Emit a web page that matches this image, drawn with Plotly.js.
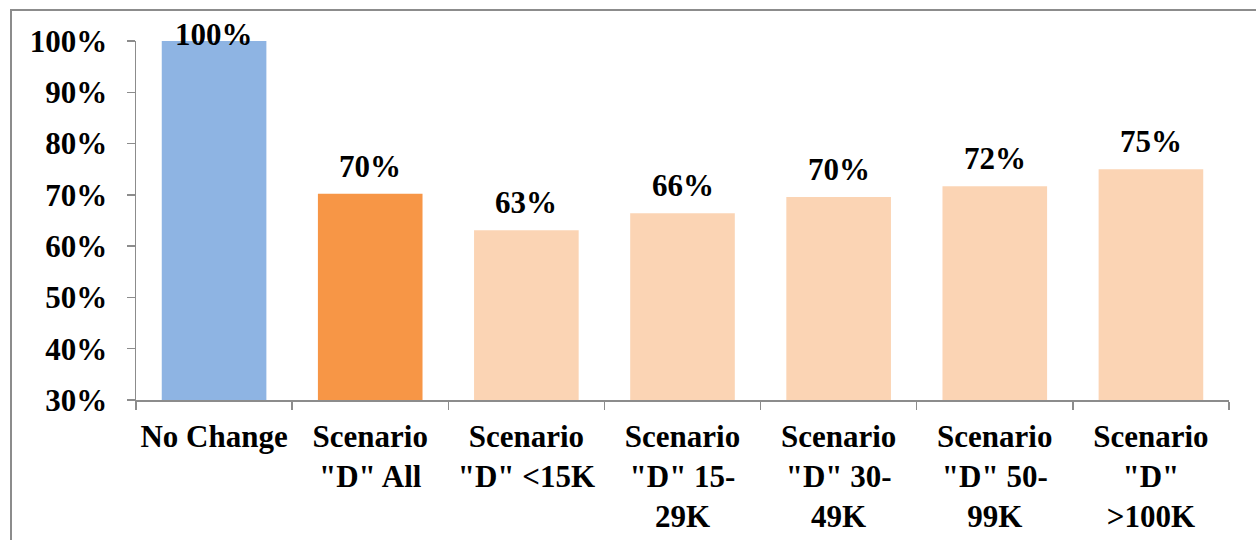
<!DOCTYPE html>
<html>
<head>
<meta charset="utf-8">
<script src="https://cdn.plot.ly/plotly-3.0.1.min.js"></script>
<style>
  html, body { margin: 0; padding: 0; background: #fff; overflow: hidden; }
  #wrap { position: relative; width: 1256px; height: 540px; }
  #chart { position: absolute; left: 0; top: 0; width: 1256px; height: 540px; }
  #frame { position: absolute; left: 10px; top: 9px; width: 1400px; height: 700px;
           border: 2px solid #8c8c8c; pointer-events: none; z-index: 5; }
</style>
</head>
<body>
<div id="wrap">
  <div id="chart"></div>
  <div id="frame"></div>
</div>
<script>
// Data
const categories = [
  'No Change',
  'Scenario<br>"D" All',
  'Scenario<br>"D" &lt;15K',
  'Scenario<br>"D" 15-<br>29K',
  'Scenario<br>"D" 30-<br>49K',
  'Scenario<br>"D" 50-<br>99K',
  'Scenario<br>"D"<br>&gt;100K'
];
const values = [100, 70.2, 63.1, 66.4, 69.6, 71.7, 75.0];
const valueLabels = ['100%', '70%', '63%', '66%', '70%', '72%', '75%'];
const barColors = ['#8EB4E3', '#F79646', '#FBD4B4', '#FBD4B4', '#FBD4B4', '#FBD4B4', '#FBD4B4'];
const yRange = [30, 100];

const FONT = 'Liberation Serif, Times New Roman, serif';
const AXIS_GRAY = '#8c8c8c';

const trace = {
  type: 'bar',
  x: categories,
  y: values,
  marker: { color: barColors, line: { width: 0 } },
  hoverinfo: 'skip',
  cliponaxis: false
};

const annotations = categories.map((c, i) => ({
  x: c,
  y: values[i],
  xref: 'x',
  yref: 'y',
  text: valueLabels[i],
  showarrow: false,
  yanchor: 'bottom',
  yshift: values[i] >= yRange[1] ? -13 : 8,
  font: { family: FONT, size: 31, color: '#000', weight: 'bold' }
}));

const layout = {
  width: 1256,
  height: 540,
  margin: { l: 136, r: 27, t: 41, b: 140 },
  paper_bgcolor: '#ffffff',
  plot_bgcolor: '#ffffff',
  showlegend: false,
  bargap: 0.33,
  font: { family: FONT, size: 31, color: '#000', weight: 'bold' },
  xaxis: {
    type: 'category',
    showgrid: false,
    showline: true,
    linecolor: AXIS_GRAY,
    linewidth: 1.5,
    ticks: 'outside',
    tickson: 'boundaries',
    ticklen: 8,
    tickwidth: 1.5,
    tickcolor: AXIS_GRAY,
    tickangle: 0,
    ticklabelstandoff: 8,
    tickfont: { family: FONT, size: 31, color: '#000', weight: 'bold' },
    fixedrange: true
  },
  yaxis: {
    range: yRange,
    dtick: 10,
    tick0: 30,
    ticksuffix: '%',
    showgrid: false,
    zeroline: false,
    showline: true,
    linecolor: AXIS_GRAY,
    linewidth: 1.5,
    ticks: 'outside',
    ticklen: 8,
    tickwidth: 1.5,
    tickcolor: AXIS_GRAY,
    ticklabelstandoff: 13,
    tickfont: { family: FONT, size: 31, color: '#000', weight: 'bold' },
    fixedrange: true
  },
  annotations: annotations
};

Plotly.newPlot('chart', [trace], layout, { displayModeBar: false, staticPlot: true });
</script>
</body>
</html>
